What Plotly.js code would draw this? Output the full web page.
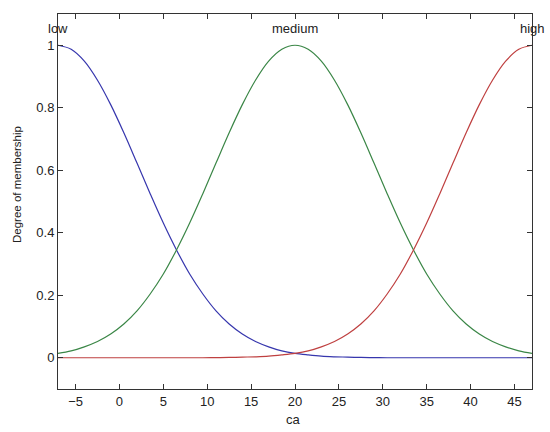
<!DOCTYPE html>
<html>
<head>
<meta charset="utf-8">
<script src="https://cdn.plot.ly/plotly-3.0.1.min.js"></script>
<style>
  html, body { margin: 0; padding: 0; background: #fff; }
  #chart { width: 550px; height: 432px; }
</style>
</head>
<body>
<div id="chart"></div>
<script>
// input variable "ca", sampled every 1.5
const caValues = [-7, -5.5, -4, -2.5, -1, 0.5, 2, 3.5, 5, 6.5, 8, 9.5, 11, 12.5, 14, 15.5, 17, 18.5, 20,
    21.5, 23, 24.5, 26, 27.5, 29, 30.5, 32, 33.5, 35, 36.5, 38, 39.5, 41, 42.5, 44, 45.5, 47];

// membership degrees
const lowMf = [1, 0.987, 0.949, 0.888, 0.810, 0.720, 0.623, 0.525, 0.431, 0.345, 0.268, 0.204, 0.150,
    0.108, 0.076, 0.052, 0.035, 0.022, 0.014, 0.009, 0.005, 0.003, 0.002, 0.001, 0.0005,
    0, 0, 0, 0, 0, 0, 0, 0, 0, 0, 0, 0];
const mediumMf = [0.014, 0.022, 0.035, 0.052, 0.076, 0.108, 0.150, 0.204, 0.268, 0.345, 0.431, 0.525,
    0.623, 0.720, 0.810, 0.888, 0.949, 0.987, 1, 0.987, 0.949, 0.888, 0.810, 0.720, 0.623, 0.525,
    0.431, 0.345, 0.268, 0.204, 0.150, 0.108, 0.076, 0.052, 0.035, 0.022, 0.014];
const highMf = [0, 0, 0, 0, 0, 0, 0, 0, 0, 0, 0, 0, 0.0005, 0.001, 0.002, 0.003, 0.005, 0.009, 0.014,
    0.022, 0.035, 0.052, 0.076, 0.108, 0.150, 0.204, 0.268, 0.345, 0.431, 0.525, 0.623, 0.720,
    0.810, 0.888, 0.949, 0.987, 1];

const mfNames = ["low", "medium", "high"];
const mfPeaks = [-7, 20, 47];
const xTicks = [-5, 0, 5, 10, 15, 20, 25, 30, 35, 40, 45];
const yTicks = [0, 0.2, 0.4, 0.6, 0.8, 1];

const font = "Liberation Sans, Arial, sans-serif";
const textColor = "#222";

function curve(y, color) {
    return {
        x: caValues, y: y, type: "scatter", mode: "lines",
        line: {color: color, width: 1.2, shape: "spline"},
        hoverinfo: "skip", showlegend: false
    };
}

const traces = [
    curve(lowMf, "#3636ad"),
    curve(mediumMf, "#3a8646"),
    curve(highMf, "#bf4040")
];

const labels = mfNames.map((name, i) => ({
    x: mfPeaks[i], y: 1.053, xref: "x", yref: "y",
    text: name, showarrow: false, xanchor: "center", yanchor: "middle",
    font: {family: font, size: 13, color: textColor}
}));

// axis titles placed by hand (pixel positions) to sit where the original has them
labels.push({
    x: 293, y: 419, text: "ca", showarrow: false,
    xanchor: "center", yanchor: "middle", font: {family: font, size: 13, color: textColor}
});
labels.push({
    x: 17, y: 185, text: "Degree of membership", showarrow: false, textangle: -90,
    xanchor: "center", yanchor: "middle", font: {family: font, size: 11.5, color: textColor}
});

const axisBase = {
    showgrid: false, zeroline: false, showline: true, mirror: "ticks",
    linecolor: "#333", linewidth: 1, ticks: "inside", ticklen: 5,
    tickcolor: "#333", tickfont: {family: font, size: 13, color: textColor}
};

const W = 550, H = 432;
const margin = {l: 58, r: 18, t: 14, b: 43};

// convert pixel positions of the hand-placed titles to paper coords
labels.slice(3).forEach(a => {
    a.x = (a.x - margin.l) / (W - margin.l - margin.r);
    a.y = (H - margin.b - a.y) / (H - margin.t - margin.b);
    a.xref = "paper"; a.yref = "paper";
});

const layout = {
    width: W, height: H, margin: margin,
    paper_bgcolor: "#fff", plot_bgcolor: "#fff",
    xaxis: Object.assign({}, axisBase, {range: [-7, 47], tickvals: xTicks}),
    yaxis: Object.assign({}, axisBase, {range: [-0.1, 1.1], tickvals: yTicks}),
    annotations: labels
};

Plotly.newPlot("chart", traces, layout, {staticPlot: true});
</script>
</body>
</html>
